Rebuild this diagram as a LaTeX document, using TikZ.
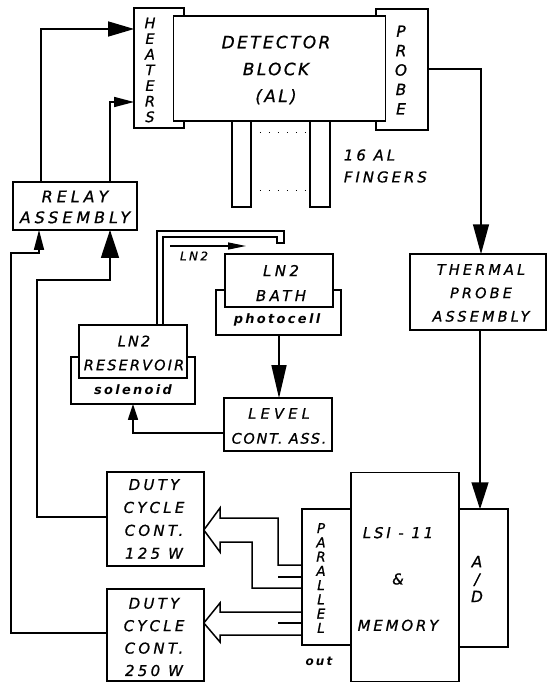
\documentclass[tikz,border=0pt]{standalone}
\usepackage{fontspec}
\setmainfont{DejaVu Sans}[LetterSpace=14]
\usetikzlibrary{arrows.meta}
\begin{document}
\begin{tikzpicture}[x=1bp,y=-1bp,line width=1.7bp,line join=miter,
  box/.style={draw,fill=white,inner sep=0pt,outer sep=0pt,anchor=center},
  txt/.style={inner sep=0pt,align=center,font=\itshape},
  fs/.style n args={3}{font=\fontsize{#1}{#2}\selectfont\itshape\addfontfeature{LetterSpace=#3,FakeBold=0.8}},
  fsb/.style 2 args={font=\fontsize{#1}{14}\selectfont\bfseries\itshape\addfontfeature{LetterSpace=#2}},
  conn/.style={line width=1.5bp},
  tip/.style 2 args={-{Triangle[length=#1pt,width=#2pt]}}]
\useasboundingbox (0,0) rectangle (548,683);
% detector assembly
\node[box,minimum width=50,minimum height=120] (heat) at (159,68) {};
\node[box,minimum width=52,minimum height=121] (probe) at (402,69.5) {};
\node[box,minimum width=19,minimum height=86] (fingL) at (241.5,164) {};
\node[box,minimum width=20,minimum height=86] (fingR) at (320,164) {};
\node[box,minimum width=213,minimum height=105] (det) at (279.5,68.5) {};
\draw[line width=1bp,dash pattern=on 1bp off 8bp] (fingL.east |- 0,132) -- (fingR.west |- 0,132);
\draw[line width=1bp,dash pattern=on 1bp off 8bp] (fingL.east |- 0,190) -- (fingR.west |- 0,190);
\node[txt,fs={17}{27}{14}] (dett) at (276,70) {DETECTOR\\BLOCK\\(AL)};
\node[txt,fs={14.5}{15.7}{0}] (heatt) at (150,70) {H\\E\\A\\T\\E\\R\\S};
\node[txt,fs={15.5}{19.5}{0}] (probet) at (401,70) {P\\R\\O\\B\\E};
\node[txt,fs={15}{22}{20},align=left,anchor=west] (fingt) at (343,166) {16 AL\\FINGERS};
% relay
\node[box,minimum width=124,minimum height=48] (relay) at (75,206) {};
\node[txt,fs={16}{21}{25}] (relayt) at (75,207) {RELAY\\ASSEMBLY};
% thermal probe assembly
\node[box,minimum width=136,minimum height=76] (therm) at (478,292) {};
\node[txt,fs={14.5}{23.5}{22}] (thermt) at (481,293) {THERMAL\\PROBE\\ASSEMBLY};
% LN2 reservoir
\node[box,minimum width=124,minimum height=47] (resbot) at (133,380.5) {};
\node[box,minimum width=108,minimum height=53] (restop) at (133,351.5) {};
\node[txt,fs={14.5}{24}{15}] (rest) at (134,353) {LN2\\RESERVOIR};
\node[txt,fsb={13}{18}] (solt) at (133,390) {solenoid};
% LN2 bath
\node[box,minimum width=125,minimum height=45] (bathbot) at (278.5,312.5) {};
\node[box,minimum width=108,minimum height=53] (bathtop) at (279,280.5) {};
\node[txt,fs={15}{25}{23}] (batht) at (281,283) {LN2\\BATH};
\node[txt,fsb={13}{18}] (phott) at (277,320) {photocell};
% level control
\node[box,minimum width=108,minimum height=53] (level) at (278,424.5) {};
\node[txt,fs={14.5}{25}{12}] (levelt) at (279,426) {{\addfontfeature{LetterSpace=30}LEVEL}\\CONT. ASS.};
% duty cycle controllers
\node[box,minimum width=97,minimum height=94] (duty1) at (155.5,519) {};
\node[txt,fs={15}{23}{22}] (duty1t) at (154,519) {DUTY\\CYCLE\\CONT.\\125 W};
\node[box,minimum width=97,minimum height=92] (duty2) at (155.5,635) {};
\node[txt,fs={15}{22.5}{22}] (duty2t) at (154,637) {DUTY\\CYCLE\\CONT.\\250 W};
% computer
\node[box,minimum width=108,minimum height=210] (lsi) at (405,577) {};
\node[txt,fs={15}{46.5}{19}] (lsit) at (398,579) {LSI - 11\\\&\\MEMORY};
\node[box,minimum width=49,minimum height=136] (par) at (326.5,577) {};
\node[txt,fs={13.5}{14.3}{0}] (part) at (321,578) {P\\A\\R\\A\\L\\L\\E\\L};
\node[txt,fsb={12}{18}] (outt) at (319,661) {out};
\node[box,minimum width=49,minimum height=138] (ad) at (483.5,578) {};
\node[txt,fs={15.5}{17.5}{0}] (adt) at (477,579) {A\\/\\D};
% relay to heaters
\draw[conn,tip={26}{15}] (relay.north -| 41,0) |- (heat.west |- 0,29);
\draw[conn,tip={20}{10}] (relay.north -| 110,0) |- (heat.west |- 0,102);
% probe to thermal probe assembly to A/D
\draw[conn,tip={30}{16}] (probe.east |- 0,69) -| (therm.north -| 481,0);
\draw[conn,tip={27}{17}] (therm.south -| 480,0) -- (ad.north -| 480,0);
% LN2 pipe
\draw[conn] (restop.north -| 157,0) |- (284,231) -- (284,243) -- (277,243) -- (277,237) -| (restop.north -| 163,0);
\coordinate (ln2a) at (170,246);
\coordinate (ln2b) at (246,246);
\draw[line width=1.3bp,tip={18}{7}] (ln2a) -- (ln2b);
\node[txt,fs={12}{12}{20}] (ln2t) at (194,256) {LN2};
% bath to level, level to solenoid
\draw[conn,tip={33}{15}] (bathbot.south -| 279,0) -- (level.north -| 279,0);
\draw[conn,tip={16}{10}] (level.west |- 0,433) -| (resbot.south);
% duty cycle feedback to relay
\draw[conn,tip={28}{18}] (duty1.west |- 0,517) -| (37,280) -| (relay.south -| 110,0);
\draw[conn,tip={20}{10}] (duty2.west |- 0,633) -| (11,253) -| (relay.south -| 39,0);
% hollow arrows from parallel out
\draw[conn] (par.west |- 0,565) -- (278,565) -- (278,518) -- (220,518) -- (220,508)
  -- (duty1.east |- 0,530) -- (220,552) -- (220,542) -- (252,542) -- (252,588) -- (par.west |- 0,588);
\draw[conn] (par.west |- 0,612) -- (220,612) -- (220,603) -- (duty2.east |- 0,623)
  -- (220,642) -- (220,635) -- (par.west |- 0,635);
\draw[conn] (278,577) -- (par.west |- 0,577);
\draw[conn] (278,623) -- (par.west |- 0,623);
\end{tikzpicture}
\end{document}
